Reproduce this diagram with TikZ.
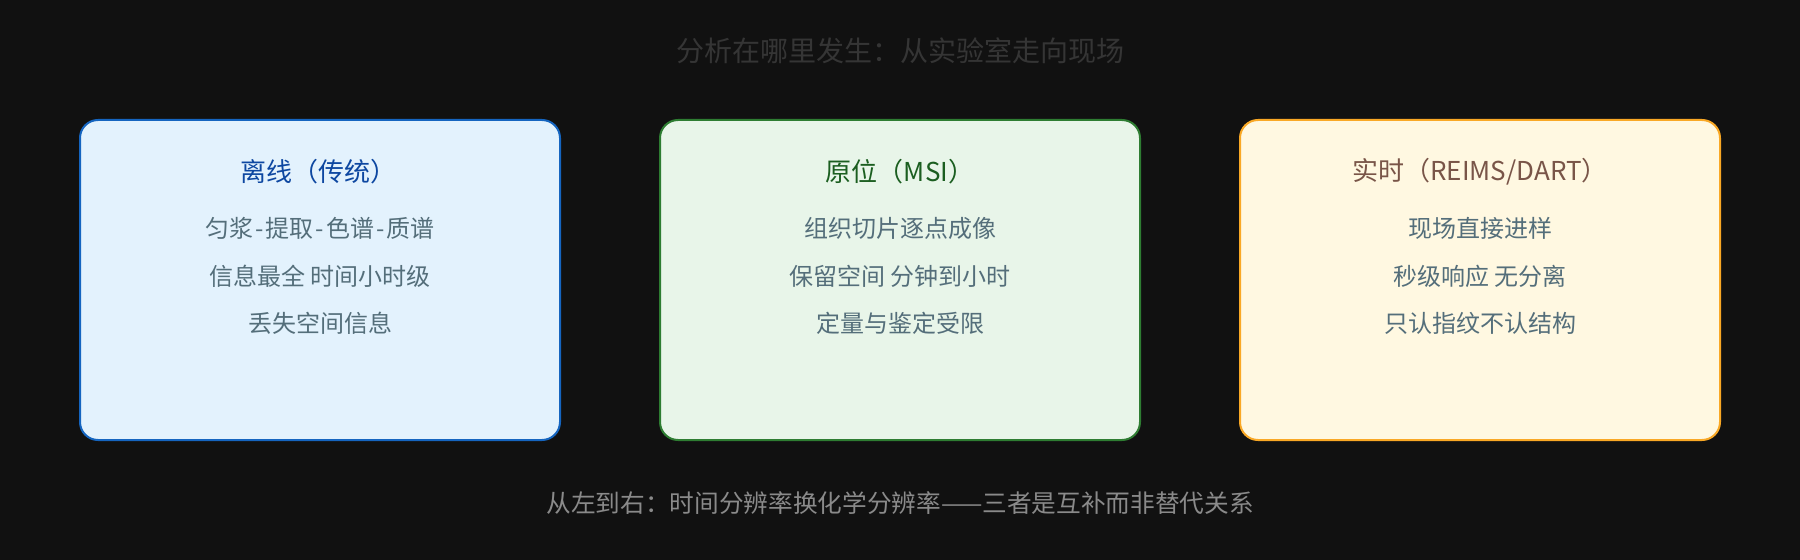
\documentclass[tikz,border=0pt]{standalone}
\usepackage{fontspec}
\setmainfont{Noto Sans CJK SC}
\definecolor{bgc}{HTML}{111111}
\definecolor{titlec}{HTML}{353535}
\definecolor{footc}{HTML}{8A8A8A}
\definecolor{bodyc}{HTML}{546E7A}
\definecolor{fillA}{HTML}{E3F2FD}
\definecolor{drawA}{HTML}{1565C0}
\definecolor{headA}{HTML}{0D47A1}
\definecolor{fillB}{HTML}{E8F5E9}
\definecolor{drawB}{HTML}{2E7D32}
\definecolor{headB}{HTML}{1B5E20}
\definecolor{fillC}{HTML}{FFF8E1}
\definecolor{drawC}{HTML}{F9A825}
\definecolor{headC}{HTML}{795548}
\tikzset{
  card/.style={rectangle, rounded corners=13.5pt, line width=1.5pt,
    minimum width=360pt, minimum height=240pt, inner sep=0pt},
  headtxt/.style={inner sep=0pt, font=\fontsize{19.5pt}{24pt}\selectfont},
  bodytxt/.style={inner sep=0pt, text=bodyc, font=\fontsize{18pt}{22pt}\selectfont},
  titletxt/.style={inner sep=0pt, text=titlec, font=\fontsize{21pt}{25pt}\selectfont},
  foottxt/.style={inner sep=0pt, text=footc, font=\fontsize{18.5pt}{23pt}\selectfont}
}
\newcommand{\hy}{\hspace{1.5pt}-\hspace{1.5pt}}
\begin{document}
\begin{tikzpicture}[x=0.75pt,y=-0.75pt]
\fill[bgc] (0,0) rectangle (1800,560);
\useasboundingbox (0,0) rectangle (1800,560);

\node[titletxt] (title) at (900,51) {分析在哪里发生：从实验室走向现场};

\node[card, fill=fillA, draw=drawA] (offline) at (320,280) {};
\node[card, fill=fillB, draw=drawB] (insitu) at (900,280) {};
\node[card, fill=fillC, draw=drawC] (realtime) at (1480,280) {};

\node[headtxt, text=headA] (hA) at (318,172) {离线（传统）};
\node[bodytxt] (a1) at (320,228) {匀浆\hy 提取\hy 色谱\hy 质谱};
\node[bodytxt] (a2) at (320,276) {信息最全 时间小时级};
\node[bodytxt] (a3) at (320,323) {丢失空间信息};

\node[headtxt, text=headB] (hB) at (900,172) {原位（MSI）};
\node[bodytxt] (b1) at (900,228) {组织切片逐点成像};
\node[bodytxt] (b2) at (900,276) {保留空间 分钟到小时};
\node[bodytxt] (b3) at (900,323) {定量与鉴定受限};

\node[headtxt, text=headC] (hC) at (1480,172) {实时（REIMS/DART）};
\node[bodytxt] (c1) at (1480,228) {现场直接进样};
\node[bodytxt] (c2) at (1480,276) {秒级响应 无分离};
\node[bodytxt] (c3) at (1480,323) {只认指纹不认结构};

\node[foottxt] (foot) at (900,503) {从左到右：时间分辨率换化学分辨率——三者是互补而非替代关系};
\end{tikzpicture}
\end{document}
